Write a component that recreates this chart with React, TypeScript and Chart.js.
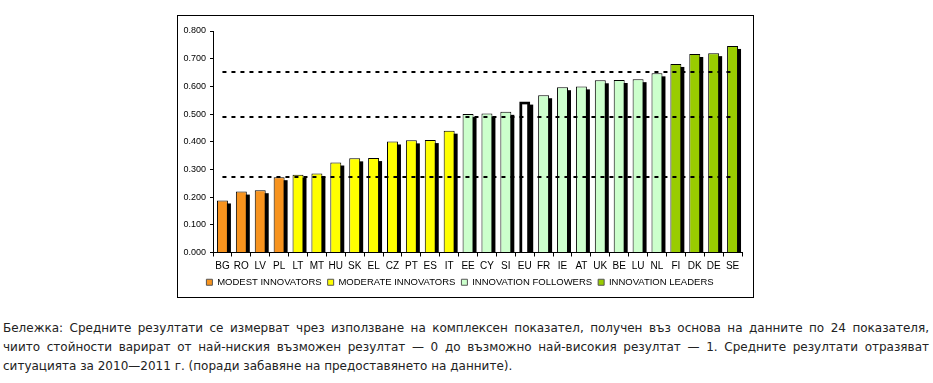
import React, { useEffect, useRef } from 'react';
import { Chart, registerables } from 'chart.js';
Chart.register(...registerables);

const countries = ['BG','RO','LV','PL','LT','MT','HU','SK','EL','CZ','PT','ES','IT','EE','CY','SI','EU','FR','IE','AT','UK','BE','LU','NL','FI','DK','DE','SE'];
const scores = [0.188,0.220,0.225,0.272,0.281,0.285,0.325,0.340,0.341,0.401,0.405,0.406,0.440,0.500,0.502,0.508,0.545,0.568,0.597,0.600,0.622,0.623,0.626,0.647,0.681,0.717,0.720,0.746];
// group index per country: 0 modest, 1 moderate, 2 followers, 3 leaders, 4 EU
const groupOf = [0,0,0,0,1,1,1,1,1,1,1,1,1,2,2,2,4,2,2,2,2,2,2,2,3,3,3,3];
const groupNames = ['MODEST INNOVATORS','MODERATE INNOVATORS','INNOVATION FOLLOWERS','INNOVATION LEADERS'];
const groupColors = ['#F7931E','#FFFF00','#CCFFCC','#99CC00','#FFFFFF'];
const thresholds = [0.272, 0.490, 0.653];
const yTicks = [0,0.1,0.2,0.3,0.4,0.5,0.6,0.7,0.8];

const shadowPlugin = {
  id: 'barShadow',
  beforeDatasetsDraw(chart: any) {
    const ctx = chart.ctx;
    const meta = chart.getDatasetMeta(0);
    ctx.save();
    ctx.fillStyle = '#000';
    meta.data.forEach((el: any) => {
      const { x, y, base, width } = el.getProps(['x', 'y', 'base', 'width'], true);
      ctx.fillRect(x - width / 2 + 3, y + 3, width, base - y - 3);
    });
    ctx.restore();
  },
};

const dashPlugin = {
  id: 'dashLines',
  afterDatasetsDraw(chart: any) {
    const ctx = chart.ctx;
    const xs = chart.scales.x;
    const ys = chart.scales.y;
    const x0 = xs.getPixelForValue(0);
    const x1 = xs.getPixelForValue(countries.length - 1);
    ctx.save();
    ctx.strokeStyle = '#000';
    ctx.lineWidth = 2;
    ctx.setLineDash([4, 5]);
    thresholds.forEach((t) => {
      const y = Math.round(ys.getPixelForValue(t));
      ctx.beginPath();
      ctx.moveTo(x0, y);
      ctx.lineTo(x1, y);
      ctx.stroke();
    });
    ctx.restore();
  },
};

function BarChart() {
  const ref = useRef<HTMLCanvasElement>(null);
  useEffect(() => {
    if (!ref.current) return;
    const chart = new Chart(ref.current, {
      type: 'bar',
      data: {
        labels: countries,
        datasets: [
          {
            data: scores,
            backgroundColor: groupOf.map((g) => groupColors[g]),
            borderColor: '#000',
            borderWidth: groupOf.map((g) => (g === 4 ? 3 : 1)),
            barPercentage: 0.58,
            categoryPercentage: 1,
          },
        ],
      },
      options: {
        responsive: false,
        animation: false,
        layout: { padding: { left: 0, right: 11, top: 15, bottom: 0 } },
        plugins: {
          tooltip: { enabled: false },
          legend: {
            position: 'bottom',
            labels: {
              boxWidth: 6,
              boxHeight: 6,
              padding: 6,
              color: '#000',
              font: { family: 'Liberation Sans, Arial, sans-serif', size: 9.5 },
              generateLabels: () =>
                groupNames.map((n, i) => ({
                  text: n,
                  fillStyle: groupColors[i],
                  strokeStyle: '#555',
                  lineWidth: 1,
                  hidden: false,
                  datasetIndex: 0,
                })),
            },
          },
        },
        scales: {
          x: {
            grid: { display: true, drawOnChartArea: false, tickLength: 4, color: '#000', offset: true },
            border: { color: '#000', width: 1 },
            ticks: {
              color: '#000',
              padding: 4,
              maxRotation: 0,
              autoSkip: false,
              font: { family: 'Liberation Sans, Arial, sans-serif', size: 10 },
            },
            afterFit: (s: any) => { s.height = 19; },
          },
          y: {
            min: 0,
            max: 0.8,
            afterBuildTicks: (s: any) => { s.ticks = yTicks.map((v) => ({ value: v })); },
            grid: { display: true, drawOnChartArea: false, tickLength: 3, color: '#000' },
            border: { color: '#000', width: 1 },
            ticks: {
              color: '#000',
              padding: 4,
              font: { family: 'Liberation Sans, Arial, sans-serif', size: 9 },
              callback: (v: any) => Number(v).toFixed(3),
            },
            afterFit: (s: any) => { s.width = 35; },
          },
        },
      },
      plugins: [shadowPlugin, dashPlugin],
    });
    return () => chart.destroy();
  }, []);
  return <canvas ref={ref} width={575} height={281} style={{ width: 575, height: 281, display: 'block' }} />;
}

const lineStyle: React.CSSProperties = {
  height: 19,
  lineHeight: '19px',
  whiteSpace: 'nowrap',
  textAlign: 'justify',
  textAlignLast: 'justify' as any,
};

export default function App() {
  return (
    <div style={{ position: 'fixed', left: 0, top: 0, width: 933, height: 383, background: '#fff' }}>
      <div
        style={{
          position: 'absolute',
          left: 177,
          top: 15,
          width: 577,
          height: 283,
          border: '1px solid #000',
          boxSizing: 'border-box',
          background: '#fff',
        }}
      >
        <BarChart />
      </div>
      <div
        style={{
          position: 'absolute',
          left: 3,
          top: 319,
          width: 926,
          fontFamily: '"DejaVu Sans", Verdana, sans-serif',
          fontSize: 12,
          color: '#222',
        }}
      >
        <div style={lineStyle}>Бележка: Средните резултати се измерват чрез използване на комплексен показател, получен въз основа на данните по 24 показателя,</div>
        <div style={lineStyle}>чиито стойности варират от най-ниския възможен резултат — 0 до възможно най-високия резултат — 1. Средните резултати отразяват</div>
        <div style={{ ...lineStyle, textAlign: 'left', textAlignLast: 'left' as any }}>ситуацията за 2010—2011 г. (поради забавяне на предоставянето на данните).</div>
      </div>
    </div>
  );
}
